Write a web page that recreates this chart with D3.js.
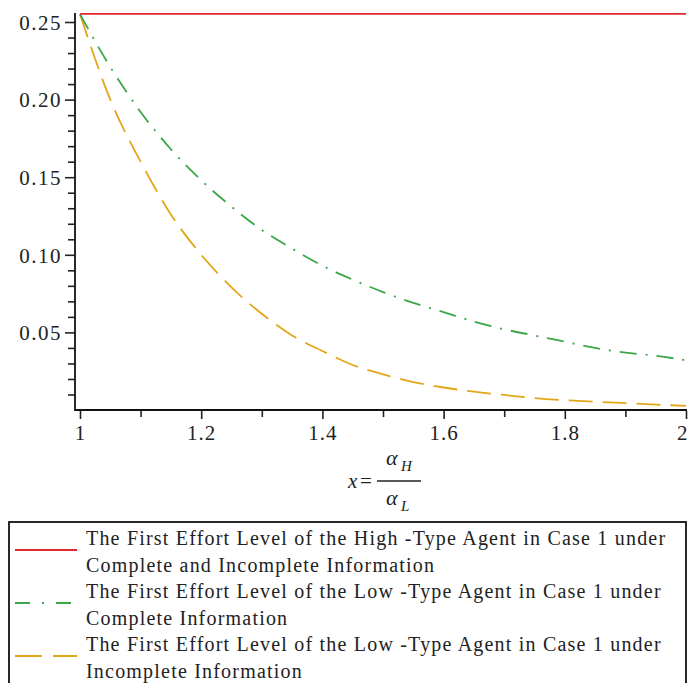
<!DOCTYPE html>
<html>
<head>
<meta charset="utf-8">
<script src="https://cdn.jsdelivr.net/npm/d3@7"></script>
<style>
	body { margin: 0; background: #fff; }
	svg text { font-family: "Liberation Serif", "Times New Roman", serif; fill: #222; }
</style>
</head>
<body>
<script>

//---------------------------------------------------------------------DATA

var xValues = [1.00, 1.05, 1.10, 1.15, 1.20, 1.25, 1.30, 1.35, 1.40, 1.45, 1.50,
			1.55, 1.60, 1.65, 1.70, 1.75, 1.80, 1.85, 1.90, 1.95, 2.00];

// high type, complete and incomplete information (flat)
var highType = [0.2552, 0.2552, 0.2552, 0.2552, 0.2552, 0.2552, 0.2552, 0.2552, 0.2552, 0.2552, 0.2552,
			0.2552, 0.2552, 0.2552, 0.2552, 0.2552, 0.2552, 0.2552, 0.2552, 0.2552, 0.2552];

// low type, complete information
var lowComplete = [0.255, 0.221, 0.192, 0.168, 0.148, 0.131, 0.116, 0.104, 0.093, 0.084, 0.076,
			0.069, 0.063, 0.057, 0.052, 0.048, 0.044, 0.040, 0.037, 0.035, 0.032];

// low type, incomplete information
var lowIncomplete = [0.255, 0.200, 0.160, 0.126, 0.100, 0.079, 0.062, 0.048, 0.038, 0.029, 0.023,
			0.018, 0.0145, 0.0118, 0.0097, 0.0077, 0.0063, 0.0053, 0.0044, 0.0035, 0.0026];

var xMajorTicks = [1, 1.2, 1.4, 1.6, 1.8, 2];
var xMinorTicks = [1.1, 1.3, 1.5, 1.7, 1.9];
var yMajorTicks = [0.05, 0.10, 0.15, 0.20, 0.25];
var yMinorTicks = [0.01, 0.02, 0.03, 0.04, 0.06, 0.07, 0.08, 0.09, 0.11, 0.12, 0.13, 0.14,
			0.16, 0.17, 0.18, 0.19, 0.21, 0.22, 0.23, 0.24];

var legendLines = [
	["The First Effort Level of the High -Type Agent in Case 1 under", "Complete and Incomplete Information"],
	["The First Effort Level of the Low -Type Agent in Case 1 under", "Complete Information"],
	["The First Effort Level of the Low -Type Agent in Case 1 under", "Incomplete Information"]
];

//---------------------------------------------------------------------SETUP

var width = 689, height = 683;

var svg = d3.select("body").append("svg").attr("width", width).attr("height", height);

var axisX = 75, axisTop = 13, axisBottom = 410;

var x = d3.scaleLinear().domain([1, 2]).range([80, 686]);
var y = d3.scaleLinear().domain([0, 0.25]).range([axisBottom, 22]);

var series = [
	{ values: highType, color: "#e0262e", dash: null },
	{ values: lowComplete, color: "#3aa748", dash: "17,9,2,9" },
	{ values: lowIncomplete, color: "#e3a618", dash: "24,10" }
];

//---------------------------------------------------------------------AXES

// minor ticks first so the majors sit on top
svg.append("g")
	.attr("transform", "translate(" + axisX + ",0)")
	.call(d3.axisLeft(y).tickValues(yMinorTicks).tickSize(7).tickFormat(""))
	.call(function(g){ g.select(".domain").remove(); })
	.selectAll("line").attr("stroke", "#222").attr("stroke-width", 1.6);

var yAxis = svg.append("g")
	.attr("transform", "translate(" + axisX + ",0)")
	.call(d3.axisLeft(y).tickValues(yMajorTicks).tickSize(10).tickPadding(3).tickFormat(d3.format(".2f")));
yAxis.select(".domain").remove();
yAxis.selectAll("line").attr("stroke", "#222").attr("stroke-width", 1.6);
yAxis.selectAll("text").style("font-size", "21px").style("letter-spacing", "1.5px").attr("dy", "0.35em");

svg.append("g")
	.attr("transform", "translate(0," + (axisBottom + 1) + ")")
	.call(d3.axisBottom(x).tickValues(xMinorTicks).tickSize(6).tickFormat(""))
	.call(function(g){ g.select(".domain").remove(); })
	.selectAll("line").attr("stroke", "#222").attr("stroke-width", 1.6);

var xAxis = svg.append("g")
	.attr("transform", "translate(0," + (axisBottom + 1) + ")")
	.call(d3.axisBottom(x).tickValues(xMajorTicks).tickSize(8).tickPadding(6).tickFormat(d3.format("")));
xAxis.select(".domain").remove();
xAxis.selectAll("line").attr("stroke", "#222").attr("stroke-width", 1.6);
xAxis.selectAll("text").style("font-size", "21px").style("letter-spacing", "1px");
// last label sits on the right edge, keep it inside
xAxis.selectAll("text").filter(function(d){ return d === 2; })
	.attr("text-anchor", "end").attr("dx", "2px");

// axis lines
svg.append("line").attr("x1", axisX).attr("x2", axisX).attr("y1", axisTop).attr("y2", axisBottom + 1)
	.attr("stroke", "#111").attr("stroke-width", 1.8);
svg.append("line").attr("x1", axisX).attr("x2", 687).attr("y1", axisBottom).attr("y2", axisBottom)
	.attr("stroke", "#111").attr("stroke-width", 1.8);

//---------------------------------------------------------------------CURVES

var line = d3.line()
	.x(function(d){ return x(d[0]); })
	.y(function(d){ return y(d[1]); })
	.curve(d3.curveMonotoneX);

for(var i = series.length - 1; i >= 0; i--){
	var s = series[i];
	var pts = xValues.map(function(v, j){ return [v, s.values[j]]; });
	svg.append("path")
		.attr("d", line(pts))
		.attr("fill", "none")
		.attr("stroke", s.color)
		.attr("stroke-width", 1.8)
		.attr("stroke-dasharray", s.dash);
}

//---------------------------------------------------------------------X LABEL

var lab = svg.append("g").style("font-style", "italic");
lab.append("text").attr("x", 348).attr("y", 488).style("font-size", "21px").text("x");
lab.append("text").attr("x", 360).attr("y", 488).style("font-size", "21px").style("font-style", "normal").text("=");
lab.append("line").attr("x1", 377).attr("x2", 421).attr("y1", 481).attr("y2", 481).attr("stroke", "#222").attr("stroke-width", 1.3);
lab.append("text").attr("x", 386).attr("y", 465).style("font-size", "22px").text("\u03b1");
lab.append("text").attr("x", 401).attr("y", 471).style("font-size", "15px").text("H");
lab.append("text").attr("x", 386).attr("y", 505).style("font-size", "22px").text("\u03b1");
lab.append("text").attr("x", 401).attr("y", 511).style("font-size", "15px").text("L");

//---------------------------------------------------------------------LEGEND

svg.append("rect").attr("x", 9).attr("y", 522).attr("width", 677).attr("height", 170)
	.attr("fill", "none").attr("stroke", "#111").attr("stroke-width", 1.8);

var legendDash = ["", "15,12,2,12", "27,11"];

legendLines.forEach(function(lines, k){
	var top = 545 + k * 53;
	svg.append("line")
		.attr("x1", 15).attr("x2", 77)
		.attr("y1", top + 5).attr("y2", top + 5)
		.attr("stroke", series[k].color).attr("stroke-width", 1.8)
		.attr("stroke-dasharray", legendDash[k] || null);
	lines.forEach(function(t, m){
		svg.append("text")
			.attr("x", 86).attr("y", top + m * 26.5)
			.style("font-size", "20px").style("letter-spacing", "1.2px")
			.text(t);
	});
});

</script>
</body>
</html>
